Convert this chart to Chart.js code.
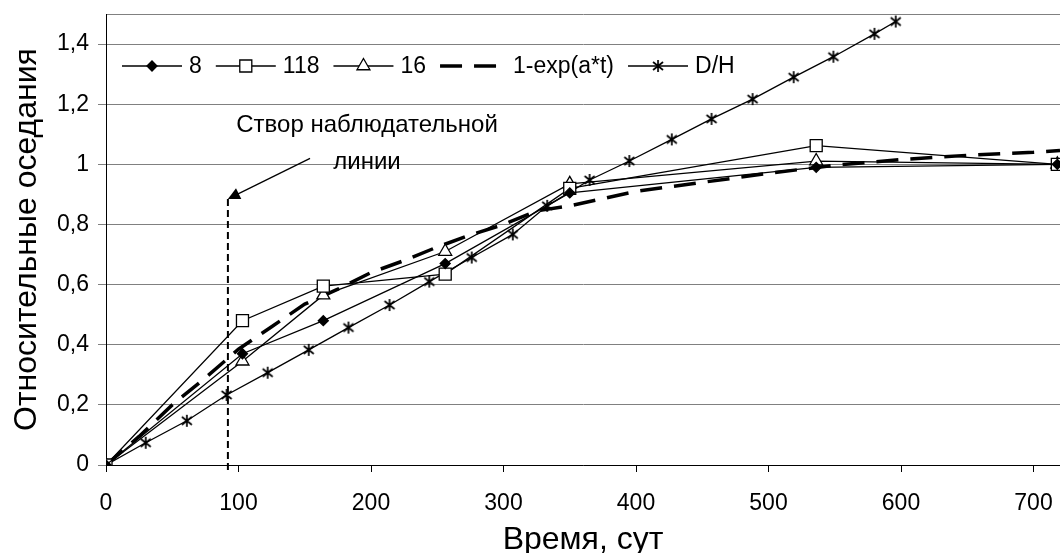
<!DOCTYPE html>
<html>
<head>
<meta charset="utf-8">
<script src="https://cdn.jsdelivr.net/npm/chart.js@4.4.1/dist/chart.umd.min.js"></script>
<style>
  html, body { margin: 0; padding: 0; background: #fff; }
  #wrap { width: 1060px; height: 553px; }
</style>
</head>
<body>
<div id="wrap"><canvas id="settleChart" width="1060" height="553"></canvas></div>
<script>
// survey dates, days
const surveyDays = [0, 103, 164, 256, 350, 536, 718];
// relative settlement at the marks 8, 118 and 16
const mark8 = [0, 0.37, 0.48, 0.67, 0.905, 0.99, 1.0];
const mark118 = [0, 0.48, 0.595, 0.635, 0.92, 1.062, 1.0];
const mark16 = [0, 0.345, 0.565, 0.71, 0.935, 1.011, 1.0];

// fitted curve 1-exp(a*t)
const fitDays = [0, 25, 50, 75, 100, 125, 150, 175, 200, 225, 250, 275, 300, 325, 350, 400, 450, 500, 550, 600, 650, 700, 720];
const fitValues = [0, 0.095, 0.2, 0.29, 0.385, 0.46, 0.535, 0.585, 0.64, 0.68, 0.725, 0.765, 0.8, 0.845, 0.862, 0.91, 0.94, 0.97, 0.997, 1.016, 1.03, 1.04, 1.046];

// D/H ratio
const dhDays = [0, 30, 61, 91, 122, 153, 183, 214, 244, 276, 307, 333, 365, 395, 427, 457, 488, 519, 549, 580, 596];
const dhValues = [0, 0.074, 0.147, 0.233, 0.307, 0.383, 0.457, 0.532, 0.61, 0.69, 0.767, 0.862, 0.948, 1.011, 1.083, 1.151, 1.217, 1.29, 1.358, 1.434, 1.475];

const seriesNames = ['8', '118', '16', '1-exp(a*t)', 'D/H'];
const xTicks = [0, 100, 200, 300, 400, 500, 600, 700];

// observation line ("створ") and its caption
const stvorDay = 92;
const stvorTop = 0.885;
const noteDay = 197;
const noteLines = ['Створ наблюдательной', 'линии'];
const noteValues = [1.131, 1.005];
const arrowFrom = [154, 1.02];

const FONT = "'Liberation Sans', Arial, sans-serif";
Chart.defaults.font.family = FONT;
Chart.defaults.color = '#000';

function pairs(xs, ys) {
  return xs.map(function (x, i) { return { x: x, y: ys[i] }; });
}

// excel-like asterisk marker
const asterisk = (function () {
  const c = document.createElement('canvas');
  c.width = 14; c.height = 14;
  const g = c.getContext('2d');
  g.strokeStyle = '#000';
  g.lineWidth = 1.7;
  g.beginPath();
  g.moveTo(7, 1); g.lineTo(7, 13);
  g.moveTo(2, 3); g.lineTo(12, 11);
  g.moveTo(12, 3); g.lineTo(2, 11);
  g.stroke();
  return c;
})();

function fmt(v) {
  return String(Math.round(v * 10) / 10).replace('.', ',');
}

const legendPlugin = {
  id: 'lineLegend',
  afterDraw: function (chart) {
    const ctx = chart.ctx;
    const area = chart.chartArea;
    let x = area.left + 16;
    const y = area.top + 52;
    ctx.save();
    ctx.font = '23px ' + FONT;
    ctx.textBaseline = 'middle';
    chart.data.datasets.forEach(function (ds) {
      const len = ds.borderDash ? 66 : 60;
      ctx.strokeStyle = '#000';
      ctx.lineWidth = ds.borderWidth;
      ctx.setLineDash(ds.borderDash || []);
      ctx.beginPath();
      ctx.moveTo(x, y);
      ctx.lineTo(x + len, y);
      ctx.stroke();
      ctx.setLineDash([]);
      if (ds.pointRadius > 0) {
        ctx.fillStyle = ds.pointBackgroundColor;
        ctx.strokeStyle = '#000';
        ctx.lineWidth = ds.pointBorderWidth;
        Chart.helpers.drawPoint(ctx, {
          pointStyle: ds.pointStyle, radius: ds.pointRadius, rotation: 0, borderWidth: ds.pointBorderWidth
        }, x + len / 2, y);
      }
      x += len + 7;
      ctx.fillStyle = '#000';
      ctx.fillText(ds.label, x, y + 1);
      x += ctx.measureText(ds.label).width + 14;
    });
    ctx.restore();
  }
};

const notePlugin = {
  id: 'stvorNote',
  afterDatasetsDraw: function (chart) {
    const ctx = chart.ctx;
    const xs = chart.scales.x, ys = chart.scales.y;
    const sx = xs.getPixelForValue(stvorDay);
    const sy = ys.getPixelForValue(stvorTop);
    ctx.save();
    // dashed vertical line
    ctx.strokeStyle = '#000';
    ctx.lineWidth = 2;
    ctx.setLineDash([7, 4]);
    ctx.beginPath();
    ctx.moveTo(sx, sy);
    ctx.lineTo(sx, ys.getPixelForValue(0) + 9);
    ctx.stroke();
    ctx.setLineDash([]);
    // arrow
    const ax = xs.getPixelForValue(arrowFrom[0]);
    const ay = ys.getPixelForValue(arrowFrom[1]);
    const ang = Math.atan2(sy - ay, sx - ax);
    ctx.lineWidth = 1.3;
    ctx.beginPath();
    ctx.moveTo(ax, ay);
    ctx.lineTo(sx - Math.cos(ang) * 8, sy - Math.sin(ang) * 8);
    ctx.stroke();
    ctx.fillStyle = '#000';
    ctx.beginPath();
    ctx.moveTo(sx, sy);
    ctx.lineTo(sx - Math.cos(ang) * 12 - Math.sin(ang) * 6, sy - Math.sin(ang) * 12 + Math.cos(ang) * 6);
    ctx.lineTo(sx - Math.cos(ang) * 12 + Math.sin(ang) * 6, sy - Math.sin(ang) * 12 - Math.cos(ang) * 6);
    ctx.closePath();
    ctx.fill();
    // caption
    ctx.font = '24px ' + FONT;
    ctx.textAlign = 'center';
    ctx.textBaseline = 'middle';
    noteLines.forEach(function (t, i) {
      ctx.fillText(t, xs.getPixelForValue(noteDay), ys.getPixelForValue(noteValues[i]));
    });
    ctx.restore();
  }
};

const lineBase = { borderColor: '#000', borderWidth: 1.3, tension: 0, pointBorderColor: '#000', pointBorderWidth: 1.3, pointHoverRadius: 0 };

const chart = new Chart(document.getElementById('settleChart'), {
  type: 'line',
  data: {
    datasets: [
      Object.assign({}, lineBase, { label: seriesNames[0], data: pairs(surveyDays, mark8), pointStyle: 'rectRot', pointRadius: 5, pointBackgroundColor: '#000' }),
      Object.assign({}, lineBase, { label: seriesNames[1], data: pairs(surveyDays, mark118), pointStyle: 'rect', pointRadius: 8.5, pointBackgroundColor: '#fff' }),
      Object.assign({}, lineBase, { label: seriesNames[2], data: pairs(surveyDays, mark16), pointStyle: 'triangle', pointRadius: 7.5, pointBackgroundColor: '#fff' }),
      Object.assign({}, lineBase, { label: seriesNames[3], data: pairs(fitDays, fitValues), borderWidth: 3.5, borderDash: [22, 12], pointRadius: 0 }),
      Object.assign({}, lineBase, { label: seriesNames[4], data: pairs(dhDays, dhValues), pointStyle: asterisk, pointRadius: 7, pointBackgroundColor: '#000' })
    ]
  },
  options: {
    responsive: false,
    animation: false,
    devicePixelRatio: 1,
    layout: { autoPadding: false, padding: { top: 14, right: 0, bottom: 0, left: 0 } },
    plugins: { legend: { display: false }, tooltip: { enabled: false } },
    scales: {
      x: {
        type: 'linear', min: 0, max: 720,
        afterBuildTicks: function (s) { s.ticks = xTicks.map(function (v) { return { value: v }; }); },
        ticks: {
          autoSkip: false, maxRotation: 0, padding: 18,
          font: { size: 23 },
          callback: function (v) { return String(v); }
        },
        grid: { drawOnChartArea: false, tickLength: 7, tickColor: '#000' },
        border: { color: '#000', width: 1 },
        title: { display: true, text: 'Время, сут', font: { size: 32, lineHeight: 0.8 }, padding: { top: 0, bottom: 0 } },
        afterFit: function (s) { s.height = 88; s.paddingLeft = 0; s.paddingRight = 0; }
      },
      y: {
        min: 0, max: 1.5,
        ticks: {
          stepSize: 0.2, padding: 9,
          font: { size: 23 },
          callback: function (v) { return v > 1.45 ? '' : fmt(v); }
        },
        grid: {
          color: '#808080', tickLength: 8,
          tickColor: function (c) { return c.tick && c.tick.value > 1.45 ? 'rgba(0,0,0,0)' : '#808080'; }
        },
        border: { color: '#000', width: 1 },
        title: { display: true, text: 'Относительные оседания', font: { size: 32, lineHeight: 1 }, padding: { top: 11, bottom: 0 } },
        afterFit: function (s) { s.width = 106; s.paddingTop = 0; s.paddingBottom = 0; }
      }
    }
  },
  plugins: [notePlugin, legendPlugin]
});
</script>
</body>
</html>
